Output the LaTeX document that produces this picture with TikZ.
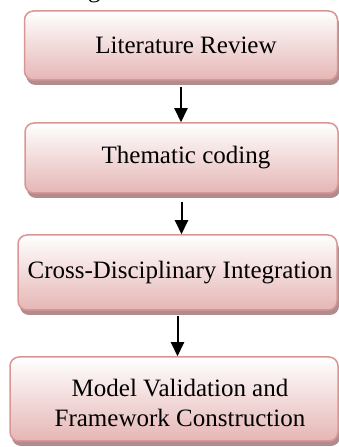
\documentclass[tikz,border=0pt]{standalone}
\usepackage{fontspec}
\setmainfont{Liberation Serif}
\usetikzlibrary{arrows.meta,shadows}

\definecolor{boxline}{RGB}{217,150,148}
\definecolor{boxbottom}{RGB}{229,182,181}
\definecolor{boxshadow}{RGB}{176,140,140}

\tikzset{
  stepbox/.style={
    rectangle, rounded corners=9pt, draw=boxline, line width=1.5pt,
    top color=white, bottom color=boxbottom,
    drop shadow={shadow xshift=2pt, shadow yshift=-5pt, fill=boxshadow, opacity=1},
    inner sep=0pt
  },
  steptext/.style={font=\fontsize{25}{30}\selectfont, align=center, inner sep=0pt},
  flow/.style={draw=black, line width=2pt, -{Triangle[length=14pt,width=13pt]}}
}

\begin{document}
\begin{tikzpicture}[x=1pt,y=1pt]
\useasboundingbox (0,0) rectangle (339,447);
\clip (0,0) rectangle (339,447);

% caption fragment above the chart, only its descender falls inside
\node[anchor=base west, inner sep=0pt, font=\fontsize{25}{30}\selectfont] (cap) at (88,449.5) {g};

% process steps
\node[stepbox, minimum width=313pt, minimum height=69pt] (b1) at (181,401.5) {};
\node[stepbox, minimum width=313pt, minimum height=70pt] (b2) at (181.5,289) {};
\node[stepbox, minimum width=319pt, minimum height=75pt] (b3) at (177.5,174.5) {};
\node[stepbox, minimum width=328pt, minimum height=84pt] (b4) at (174,48) {};

\node[steptext] (t1) at (186,401.5) {Literature Review};
\node[steptext] (t2) at (186,289) {Thematic coding};
\node[steptext] (t3) at (180,174.5) {Cross-Disciplinary Integration};
\node[steptext] (t4) at (180,44) {Model Validation and\\Framework Construction};

% connectors between steps
\draw[flow] ([yshift=-6pt]b1.south) -- (b1.south |- b2.north);
\draw[flow] ([yshift=-8pt]b2.south) -- (b2.south |- b3.north);
\draw[flow] ([yshift=-5pt]b3.south) -- (b3.south |- b4.north);
\end{tikzpicture}
\end{document}
